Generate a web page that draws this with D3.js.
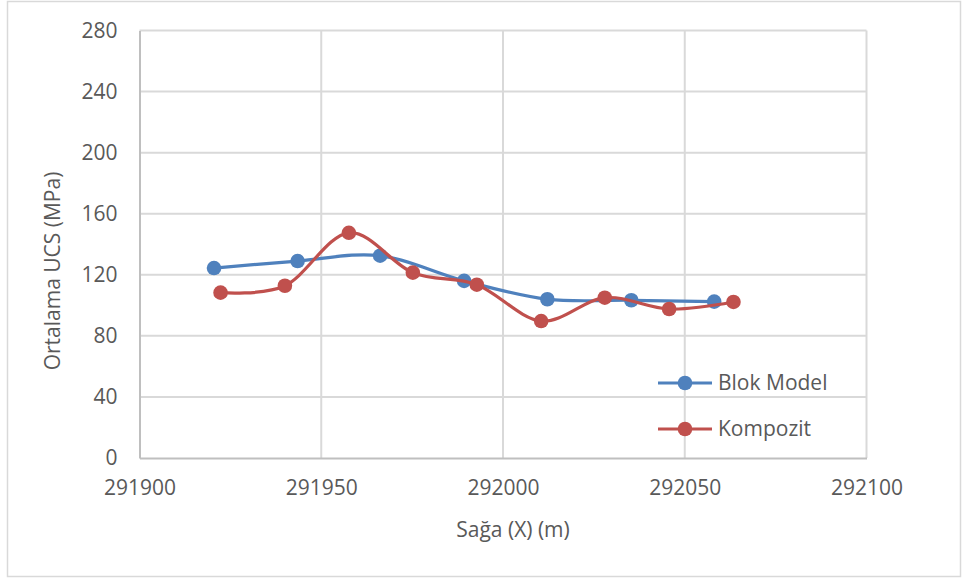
<!doctype html>
<html>
<head>
<style type="text/css">
body { margin: 0; background: #fff; }
text { fill: #595959; font-family: "Open Sans", sans-serif; }
.tick text { font-size: 21px; }
.title { font-size: 21px; }
.legend text { font-size: 21px; }
</style>
</head>
<body>
<svg width="962" height="581"></svg>
<script src="https://cdn.jsdelivr.net/npm/d3@7"></script>
<script>
// Blok Model series
var blokX = [291920.5, 291943.5, 291966.2, 291989.3, 292012.2, 292035.3, 292058.1];
var blokY = [124.4, 129, 132.5, 116, 104, 103.3, 102.4];
// Kompozit series
var kompX = [291922.3, 291940, 291957.6, 291975.2, 291992.8, 292010.5, 292028, 292045.7, 292063.4];
var kompY = [108.3, 112.8, 147.5, 121.4, 113.5, 89.7, 105, 97.6, 102.2];

var xTicks = [291900, 291950, 292000, 292050, 292100];
var yTicks = [0, 40, 80, 120, 160, 200, 240, 280];
var seriesNames = ["Blok Model", "Kompozit"];
var colours = ["#4f81bd", "#c0504d"];

(function() {
var svg = d3.select("svg");

// outer chart border
svg.append("rect")
  .attr("x", 7.5).attr("y", 1.5)
  .attr("width", 953).attr("height", 575)
  .attr("fill", "none").attr("stroke", "#d9d9d9").attr("stroke-width", 1.5);

var pLeft = 139.5, pRight = 866.5, pTop = 30.5, pBottom = 458;

var x = d3.scaleLinear().domain([291900, 292100]).range([pLeft, pRight]);
var y = d3.scaleLinear().domain([0, 280]).range([pBottom, pTop]);

// grid
svg.append("g").selectAll("line").data(yTicks.slice(1)).enter().append("line")
  .attr("x1", pLeft).attr("x2", pRight)
  .attr("y1", function(d) { return y(d); }).attr("y2", function(d) { return y(d); })
  .attr("stroke", "#d9d9d9").attr("stroke-width", 2);
svg.append("g").selectAll("line").data(xTicks.slice(1)).enter().append("line")
  .attr("x1", function(d) { return x(d); }).attr("x2", function(d) { return x(d); })
  .attr("y1", pTop).attr("y2", pBottom)
  .attr("stroke", "#d9d9d9").attr("stroke-width", 2);

// axes
var xAxis = d3.axisBottom(x).tickValues(xTicks).tickSize(0).tickPadding(22).tickFormat(d3.format("d"));
var gx = svg.append("g").attr("transform", "translate(0," + pBottom + ")").call(xAxis);
gx.select(".domain").attr("stroke", "#bfbfbf").attr("stroke-width", 2);

var yAxis = d3.axisLeft(y).tickValues(yTicks).tickSize(0).tickPadding(22);
var gy = svg.append("g").attr("transform", "translate(" + pLeft + ",0)").call(yAxis);
gy.select(".domain").attr("stroke", "#bfbfbf").attr("stroke-width", 2);
svg.selectAll(".tick text").attr("fill", "#595959").style("font-family", "'Open Sans', sans-serif");

// titles
svg.append("text").attr("class", "title")
  .attr("x", 513).attr("y", 537).attr("text-anchor", "middle")
  .text("Sağa (X) (m)");
svg.append("text").attr("class", "title")
  .attr("transform", "translate(60,271) rotate(-90)").attr("text-anchor", "middle")
  .text("Ortalama UCS (MPa)");

var line = d3.line()
  .x(function(d) { return x(d[0]); })
  .y(function(d) { return y(d[1]); })
  .curve(d3.curveCardinal.tension(0));

var series = [d3.zip(blokX, blokY), d3.zip(kompX, kompY)];

series.forEach(function(pts, i) {
  svg.append("path").datum(pts)
    .attr("d", line)
    .attr("fill", "none").attr("stroke", colours[i]).attr("stroke-width", 3.2)
    .attr("stroke-linecap", "round");
  svg.append("g").selectAll("circle").data(pts).enter().append("circle")
    .attr("cx", function(d) { return x(d[0]); })
    .attr("cy", function(d) { return y(d[1]); })
    .attr("r", 7.3).attr("fill", colours[i]);
});

// legend
var legend = svg.append("g").attr("class", "legend");
seriesNames.forEach(function(name, i) {
  var ly = 383 + i * 46;
  legend.append("line").attr("x1", 658).attr("x2", 712).attr("y1", ly).attr("y2", ly)
    .attr("stroke", colours[i]).attr("stroke-width", 3.2);
  legend.append("circle").attr("cx", 685).attr("cy", ly).attr("r", 7.3).attr("fill", colours[i]);
  legend.append("text").attr("x", 718).attr("y", ly + 7).text(name);
});
})();
</script>
</body>
</html>
